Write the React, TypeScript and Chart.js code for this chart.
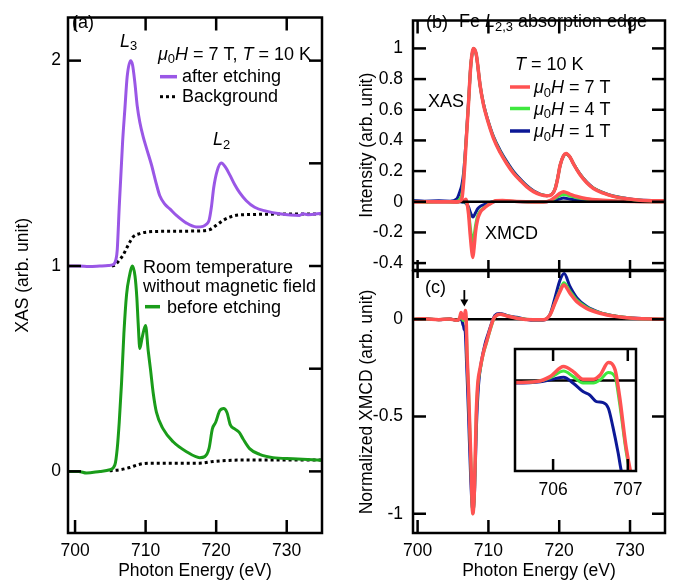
import React, { useEffect, useRef } from "react";
import { Chart, registerables } from "chart.js";
Chart.register(...registerables);

const FONT = '"Liberation Sans", Arial, Helvetica, sans-serif';
const W = 680;
const H = 585;
Chart.defaults.color = "#000";
Chart.defaults.font.family = FONT;

// ---------- Panel (a) ----------
const afterE = [699.0, 700.5, 702, 703.5, 704.7, 705.41, 705.79, 705.98, 706.26, 706.74, 707.06, 707.39, 707.87, 708.15, 708.48, 708.81, 709.18, 709.66, 710.13, 710.83, 711.54, 712.01, 712.72, 713.43, 714.37, 715.79, 717.2, 718.14, 718.61, 718.99, 719.32, 719.65, 720.12, 720.73, 721.34, 721.91, 722.62, 723.33, 724.27, 725.45, 727.1, 728.99, 731.82, 732.29, 733.0, 735.0];
const afterEtching = [1.0, 1.0, 0.998, 1.0, 1.002, 1.007, 1.031, 1.079, 1.286, 1.605, 1.764, 1.923, 2.0, 1.979, 1.892, 1.78, 1.7, 1.629, 1.573, 1.493, 1.397, 1.342, 1.301, 1.278, 1.246, 1.209, 1.19, 1.193, 1.203, 1.222, 1.286, 1.381, 1.461, 1.501, 1.48, 1.445, 1.397, 1.357, 1.318, 1.286, 1.267, 1.254, 1.246, 1.254, 1.25, 1.257];
const beforeE = [699.0, 700.5, 701.64, 703.53, 704.94, 705.65, 705.98, 706.26, 706.59, 706.92, 707.3, 707.7, 708.15, 708.5, 708.75, 708.95, 709.18, 709.5, 709.99, 710.36, 710.7, 711.07, 711.54, 712.48, 713.9, 715.79, 717.67, 718.38, 718.99, 719.46, 719.93, 720.5, 721.07, 721.53, 722.01, 722.62, 723.24, 723.8, 724.74, 726.16, 728.05, 730.87, 735.0];
const beforeEtching = [0.0, 0.0, -0.008, 0.0, 0.008, 0.032, 0.112, 0.239, 0.431, 0.67, 0.861, 0.95, 1.0, 0.95, 0.85, 0.718, 0.598, 0.65, 0.71, 0.59, 0.494, 0.383, 0.287, 0.207, 0.144, 0.096, 0.067, 0.072, 0.112, 0.207, 0.239, 0.295, 0.306, 0.287, 0.226, 0.207, 0.191, 0.159, 0.111, 0.083, 0.067, 0.061, 0.054];
const bgTopE = [705.2, 705.6, 706.12, 706.82, 707.53, 708.24, 709.18, 710.36, 712.96, 717.67, 719.08, 720.02, 720.97, 721.91, 722.86, 725.21, 735.0];
const bgTop = [1.0, 1.004, 1.022, 1.054, 1.102, 1.142, 1.158, 1.166, 1.169, 1.171, 1.177, 1.198, 1.222, 1.238, 1.247, 1.251, 1.254];
const bgBotE = [704.9, 706.36, 707.77, 709.18, 710.6, 717.67, 719.55, 721.44, 723.33, 735.0];
const bgBot = [0.003, 0.008, 0.019, 0.035, 0.04, 0.04, 0.048, 0.053, 0.055, 0.055];

// ---------- Panel (b) ----------
const xasE = [699.35, 701, 703, 704.6, 705.55, 706.0, 706.25, 706.5, 706.87, 707.2, 707.53, 707.9, 708.28, 708.84, 709.31, 709.78, 710.72, 711.66, 712.6, 713.54, 714.49, 715.43, 716.37, 717.31, 718.25, 718.95, 719.42, 719.75, 720.13, 720.6, 720.97, 721.54, 722.0, 722.95, 723.89, 724.83, 726.24, 727.65, 729.53, 731.41, 734.94];
const xas7T = [0, 0, 0, 0, 0, 0.005, 0.02, 0.13, 0.4, 0.65, 0.9, 1.0, 0.963, 0.755, 0.631, 0.548, 0.414, 0.321, 0.248, 0.186, 0.139, 0.097, 0.066, 0.047, 0.039, 0.047, 0.083, 0.145, 0.238, 0.3, 0.315, 0.29, 0.248, 0.176, 0.124, 0.087, 0.056, 0.035, 0.019, 0.01, 0.006];
const xas4T = [0.003, -0.002, 0.002, 0.0, 0.004, 0.02, 0.05, 0.15, 0.41, 0.65, 0.9, 1.0, 0.96, 0.755, 0.635, 0.55, 0.418, 0.326, 0.252, 0.19, 0.142, 0.1, 0.068, 0.048, 0.04, 0.048, 0.085, 0.147, 0.238, 0.298, 0.313, 0.29, 0.25, 0.178, 0.126, 0.089, 0.058, 0.036, 0.02, 0.01, 0.006];
const xas1T = [0.008, 0.004, 0.006, 0.004, 0.02, 0.07, 0.11, 0.19, 0.42, 0.66, 0.9, 1.0, 0.96, 0.755, 0.638, 0.555, 0.425, 0.335, 0.262, 0.198, 0.148, 0.105, 0.072, 0.05, 0.04, 0.048, 0.085, 0.147, 0.238, 0.298, 0.312, 0.29, 0.25, 0.18, 0.128, 0.09, 0.06, 0.038, 0.022, 0.012, 0.008];
const xmcdE = [699.35, 702, 704.5, 705.5, 706.0, 706.2, 706.5, 706.8, 706.95, 707.2, 707.42, 707.67, 707.8, 707.95, 708.2, 708.5, 708.84, 709.31, 710.0, 710.5, 711.0, 712.0, 714.0, 716.3, 717.7, 718.7, 719.4, 720.1, 720.6, 721.5, 722.5, 723.9, 725.7, 728.0, 730.4, 734.94];
const xmcd7T = [0, 0, 0, -0.002, 0.004, 0.012, 0.003, 0.016, 0.0, -0.08, -0.21, -0.33, -0.363, -0.31, -0.19, -0.11, -0.07, -0.045, -0.02, -0.006, 0.006, 0.008, 0.002, -0.001, -0.001, 0.008, 0.03, 0.055, 0.066, 0.05, 0.034, 0.02, 0.011, 0.005, 0.002, 0];
const xmcd4T = [0, 0, 0, -0.002, 0.003, 0.008, -0.002, 0.006, -0.01, -0.06, -0.16, -0.24, -0.265, -0.23, -0.15, -0.09, -0.06, -0.04, -0.018, -0.005, 0.005, 0.006, 0.002, -0.001, -0.001, 0.006, 0.022, 0.04, 0.048, 0.038, 0.026, 0.016, 0.009, 0.004, 0.001, 0];
const xmcd1T = [0, 0, 0, -0.001, 0.0, -0.001, -0.004, -0.008, -0.015, -0.035, -0.065, -0.092, -0.1, -0.092, -0.07, -0.045, -0.03, -0.02, -0.009, -0.002, 0.002, 0.003, 0.001, -0.001, -0.001, 0.003, 0.01, 0.019, 0.024, 0.018, 0.012, 0.007, 0.004, 0.002, 0.001, 0];

// ---------- Panel (c) + inset (normalized XMCD) ----------
const nE = [699.35, 701, 703, 704.5, 705.49, 705.78, 705.96, 706.14, 706.27, 706.4, 706.54, 706.63, 706.74, 706.83, 706.89, 706.98, 707.19, 707.52, 707.8, 708.04, 708.27, 708.5, 708.84, 709.3, 709.78, 710.25, 710.7, 711.0, 711.65, 712.59, 714.0, 716.34, 717.75, 718.69, 719.39, 720.1, 720.66, 721.51, 722.45, 723.86, 725.74, 728.08, 730.43, 734.94];
const norm7T = [0, 0.003, -0.002, 0.001, -0.005, -0.0025, 0.01, 0.035, 0.0225, 0.0035, 0.0035, 0.014, 0.045, 0.027, -0.04, -0.17, -0.36, -0.72, -1.0, -0.86, -0.5, -0.33, -0.25, -0.17, -0.11, -0.05, 0.0, 0.016, 0.026, 0.017, 0.005, -0.003, -0.003, 0.022, 0.082, 0.142, 0.176, 0.134, 0.091, 0.056, 0.031, 0.014, 0.005, 0];
const norm4T = [0, 0.002, -0.002, 0.001, -0.005, -0.0025, 0.007, 0.024, 0.01, -0.006, -0.006, 0.002, 0.02, 0.009, -0.056, -0.18, -0.37, -0.73, -1.0, -0.87, -0.52, -0.34, -0.26, -0.175, -0.115, -0.055, -0.005, 0.015, 0.026, 0.018, 0.006, -0.002, -0.002, 0.022, 0.085, 0.15, 0.187, 0.145, 0.1, 0.062, 0.034, 0.015, 0.005, 0];
const n1E = [699.35, 701, 703, 704.5, 705.49, 705.83, 706.0, 706.14, 706.27, 706.4, 706.49, 706.58, 706.67, 706.74, 706.8, 706.87, 706.91, 707.0, 707.2, 707.5, 707.8, 708.05, 708.3, 708.6, 709.0, 709.5, 710.0, 710.5, 710.9, 711.6, 712.6, 714.0, 716.3, 717.7, 718.7, 719.4, 720.1, 720.7, 721.5, 722.5, 723.9, 725.7, 728.0, 730.4, 734.94];
const norm1T = [0, 0.004, -0.003, 0.002, -0.006, -0.003, 0.004, 0.0085, -0.0065, -0.0275, -0.036, -0.0525, -0.055, -0.069, -0.115, -0.18, -0.223, -0.3, -0.5, -0.82, -0.99, -0.88, -0.56, -0.34, -0.22, -0.13, -0.07, -0.015, 0.02, 0.03, 0.02, 0.01, -0.005, -0.005, 0.025, 0.11, 0.2, 0.235, 0.17, 0.11, 0.065, 0.035, 0.016, 0.006, 0];

// tick positions / labels
const energyTicks = [700, 710, 720, 730];
const insetTicks = [706, 707];

const PURPLE = "#9a57e6";
const DGREEN = "#1a9c1a";
const RED = "#ff5252";
const LGREEN = "#3fe83f";
const BLUE = "#0c1896";

type Part = { t: string; it?: boolean; sub?: boolean };
type Label = { x: number; y: number; parts: Part[]; size?: number };
type Sample = { x1: number; x2: number; y: number; color: string; width: number; dash?: number[] };
type Overlay = {
  ticks: Record<string, number>;
  labels?: Label[];
  samples?: Sample[];
  zeroAfter?: number;
  zeroBelow?: boolean;
  white?: boolean;
  arrow?: { x: number; y1: number; y2: number };
};

function pts(xs: number[], ys: number[]) {
  return xs.map((x, i) => ({ x, y: ys[i] }));
}

function series(label: string, xs: number[], ys: number[], color: string, width: number, extra: any = {}) {
  return {
    label,
    data: pts(xs, ys),
    borderColor: color,
    backgroundColor: color,
    borderWidth: width,
    pointRadius: 0,
    fill: false,
    cubicInterpolationMode: "monotone",
    ...extra,
  };
}

function drawRich(ctx: CanvasRenderingContext2D, lab: Label) {
  const size = lab.size ?? 18;
  let cx = lab.x;
  ctx.fillStyle = "#000";
  ctx.textBaseline = "alphabetic";
  ctx.textAlign = "left";
  for (const p of lab.parts) {
    const fs = p.sub ? size * 0.72 : size;
    ctx.font = `${p.it ? "italic " : ""}${fs}px ${FONT}`;
    ctx.fillText(p.t, cx, p.sub ? lab.y + size * 0.2 : lab.y);
    cx += ctx.measureText(p.t).width;
  }
}

function drawZero(chart: any) {
  const { ctx, chartArea } = chart;
  const y = chart.scales.y.getPixelForValue(0);
  ctx.save();
  ctx.strokeStyle = "#000";
  ctx.lineWidth = 2.5;
  ctx.beginPath();
  ctx.moveTo(chartArea.left, y);
  ctx.lineTo(chartArea.right, y);
  ctx.stroke();
  ctx.restore();
}

function overlay(o: Overlay) {
  return {
    id: "overlay",
    beforeDraw(chart: any) {
      if (!o.white) return;
      const { ctx, chartArea: a } = chart;
      ctx.save();
      ctx.fillStyle = "#fff";
      ctx.fillRect(a.left, a.top, a.right - a.left, a.bottom - a.top);
      ctx.restore();
    },
    beforeDatasetsDraw(chart: any) {
      if (o.zeroBelow) drawZero(chart);
    },
    afterDatasetDraw(chart: any, args: any) {
      if (o.zeroAfter === args.index) drawZero(chart);
    },
    afterDraw(chart: any) {
      const { ctx, chartArea: a } = chart;
      ctx.save();
      ctx.strokeStyle = "#000";
      ctx.lineWidth = 2.5;
      ctx.strokeRect(a.left, a.top, a.right - a.left, a.bottom - a.top);
      for (const id of Object.keys(o.ticks)) {
        const s = chart.scales[id];
        const len = o.ticks[id];
        const pos = s.options.position;
        for (const t of s.ticks) {
          const p = s.getPixelForValue(t.value);
          ctx.beginPath();
          if (pos === "left") { ctx.moveTo(a.left, p); ctx.lineTo(a.left + len, p); }
          else if (pos === "right") { ctx.moveTo(a.right, p); ctx.lineTo(a.right - len, p); }
          else if (pos === "bottom") { ctx.moveTo(p, a.bottom); ctx.lineTo(p, a.bottom - len); }
          else { ctx.moveTo(p, a.top); ctx.lineTo(p, a.top + len); }
          ctx.stroke();
        }
      }
      for (const sm of o.samples ?? []) {
        ctx.save();
        ctx.strokeStyle = sm.color;
        ctx.lineWidth = sm.width;
        ctx.setLineDash(sm.dash ?? []);
        ctx.beginPath();
        ctx.moveTo(sm.x1, sm.y);
        ctx.lineTo(sm.x2, sm.y);
        ctx.stroke();
        ctx.restore();
      }
      if (o.arrow) {
        const xs = chart.scales.x, ys = chart.scales.y;
        const x = xs.getPixelForValue(o.arrow.x);
        const y1 = ys.getPixelForValue(o.arrow.y1);
        const y2 = ys.getPixelForValue(o.arrow.y2);
        ctx.lineWidth = 1.8;
        ctx.beginPath();
        ctx.moveTo(x, y1);
        ctx.lineTo(x, y2 - 5);
        ctx.stroke();
        ctx.fillStyle = "#000";
        ctx.beginPath();
        ctx.moveTo(x - 4, y2 - 7);
        ctx.lineTo(x + 4, y2 - 7);
        ctx.lineTo(x, y2);
        ctx.closePath();
        ctx.fill();
      }
      for (const l of o.labels ?? []) drawRich(ctx, l);
      ctx.restore();
    },
  };
}

const tickFont = { family: FONT, size: 17.5 };
const titleFont = { family: FONT, size: 17.5 };
const noGrid = { display: false, drawTicks: false };
const noBorder = { display: false };

function axis(position: string, min: number, max: number, step: number, opts: any = {}) {
  const { labels = false, pad = 8, title, titlePad, size, fmt } = opts;
  const horizontal = position === "top" || position === "bottom";
  return {
    type: "linear",
    position,
    min,
    max,
    grid: noGrid,
    border: noBorder,
    ticks: {
      display: labels,
      stepSize: step,
      includeBounds: false,
      font: tickFont,
      color: "#000",
      padding: pad,
      maxRotation: 0,
      minRotation: 0,
      autoSkip: false,
      callback: (v: number) => (fmt ? fmt(v) : String(v)),
    },
    title: title
      ? { display: true, text: title, font: titleFont, color: "#000", padding: titlePad }
      : { display: false },
    afterFit: (s: any) => {
      if (horizontal) s.height = size; else s.width = size;
    },
  };
}

const oneDec = (v: number) => String(Math.round(v * 10) / 10);

function baseOptions(padding: any, scales: any) {
  return {
    animation: false,
    responsive: false,
    maintainAspectRatio: false,
    events: [],
    layout: { padding, autoPadding: false },
    plugins: { legend: { display: false }, tooltip: { enabled: false } },
    scales,
  };
}

const muH = (v: string): Part[] => [{ t: "μ", it: true }, { t: "0", sub: true }, { t: "H", it: true }, { t: ` = ${v} T` }];

function cfgA(): any {
  return {
    type: "line",
    data: {
      datasets: [
        series("after etching", afterE, afterEtching, PURPLE, 3),
        series("before etching", beforeE, beforeEtching, DGREEN, 3),
        series("Background", bgTopE, bgTop, "#000", 3, { borderDash: [3, 3] }),
        series("Background (RT)", bgBotE, bgBot, "#000", 3, { borderDash: [3, 3] }),
      ],
    },
    options: baseOptions({ left: 0, top: 8, right: W - 322, bottom: 0 }, {
      x: axis("bottom", 699, 735, 10, { labels: true, pad: 8, size: 52, title: "Photon Energy (eV)", titlePad: { top: 0, bottom: 3 } }),
      x2: axis("top", 699, 735, 10, { size: 0 }),
      y: axis("left", -0.3, 2.21, 1, { labels: true, pad: 7, size: 68, title: "XAS (arb. unit)", titlePad: { top: 13, bottom: 0 } }),
      y2: axis("right", -0.3, 2.21, 0.5, { size: 0 }),
    }),
    plugins: [
      overlay({
        ticks: { x: 13, x2: 13, y: 13, y2: 13 },
        samples: [
          { x1: 160, x2: 177, y: 76.7, color: PURPLE, width: 3.5 },
          { x1: 160, x2: 178, y: 96.7, color: "#000", width: 3, dash: [3, 3] },
          { x1: 145, x2: 160, y: 306.7, color: DGREEN, width: 3.5 },
        ],
        labels: [
          { x: 72, y: 28, parts: [{ t: "(a)" }] },
          { x: 120, y: 46.5, parts: [{ t: "L", it: true }, { t: "3", sub: true }] },
          { x: 158, y: 59.5, parts: [{ t: "μ", it: true }, { t: "0", sub: true }, { t: "H", it: true }, { t: " = 7 T, " }, { t: "T", it: true }, { t: " = 10 K" }] },
          { x: 182, y: 82, parts: [{ t: "after etching" }] },
          { x: 182, y: 101.5, parts: [{ t: "Background" }] },
          { x: 213, y: 145, parts: [{ t: "L", it: true }, { t: "2", sub: true }] },
          { x: 143, y: 273, parts: [{ t: "Room temperature" }] },
          { x: 143, y: 291.5, parts: [{ t: "without magnetic field" }] },
          { x: 167, y: 313, parts: [{ t: "before etching" }] },
        ],
      }),
    ],
  };
}

function cfgB(): any {
  return {
    type: "line",
    data: {
      datasets: [
        series("XAS 7 T", xasE, xas7T, RED, 3.5),
        series("XAS 4 T", xasE, xas4T, LGREEN, 3),
        series("XAS 1 T", xasE, xas1T, BLUE, 3),
        series("XMCD 7 T", xmcdE, xmcd7T, RED, 3.5),
        series("XMCD 4 T", xmcdE, xmcd4T, LGREEN, 3),
        series("XMCD 1 T", xmcdE, xmcd1T, BLUE, 3),
      ],
    },
    options: baseOptions({ left: 340, top: 8, right: 15, bottom: W === 680 ? 315 : 315 }, {
      x: axis("bottom", 699.35, 734.94, 10, { size: 0 }),
      x2: axis("top", 699.35, 734.94, 10, { size: 0 }),
      y: axis("left", -0.445, 1.182, 0.2, { labels: true, pad: 10, size: 73, fmt: oneDec, title: "Intensity (arb. unit)", titlePad: { top: 17, bottom: 0 } }),
      y2: axis("right", -0.445, 1.182, 0.2, { size: 0 }),
    }),
    plugins: [
      overlay({
        ticks: { x: 10, x2: 13, y: 13, y2: 13 },
        zeroAfter: 3,
        samples: [
          { x1: 510, x2: 530, y: 87, color: RED, width: 3.5 },
          { x1: 510, x2: 530, y: 108.5, color: LGREEN, width: 3.5 },
          { x1: 510, x2: 530, y: 131, color: BLUE, width: 3.5 },
        ],
        labels: [
          { x: 426, y: 27.5, parts: [{ t: "(b)" }] },
          { x: 459, y: 27, parts: [{ t: "Fe " }, { t: "L", it: true }, { t: "2,3", sub: true }, { t: " absorption edge" }] },
          { x: 515, y: 69.5, parts: [{ t: "T", it: true }, { t: " = 10 K" }] },
          { x: 534, y: 93, parts: muH("7") },
          { x: 534, y: 114.5, parts: muH("4") },
          { x: 534, y: 137, parts: muH("1") },
          { x: 428, y: 106.5, parts: [{ t: "XAS" }] },
          { x: 485, y: 238.5, parts: [{ t: "XMCD" }] },
        ],
      }),
    ],
  };
}

function cfgC(): any {
  return {
    type: "line",
    data: {
      datasets: [
        series("7 T", nE, norm7T, RED, 3.5),
        series("4 T", nE, norm4T, LGREEN, 3),
        series("1 T", n1E, norm1T, BLUE, 3),
      ],
    },
    options: baseOptions({ left: 340, top: 271, right: 15, bottom: 0 }, {
      x: axis("bottom", 699.35, 734.94, 10, { labels: true, pad: 8, size: 52, title: "Photon Energy (eV)", titlePad: { top: 0, bottom: 3 } }),
      x2: axis("top", 699.35, 734.94, 10, { size: 0 }),
      y: axis("left", -1.099, 0.248, 0.5, { labels: true, pad: 10, size: 73, fmt: oneDec, title: "Normalized XMCD (arb. unit)", titlePad: { top: 17, bottom: 0 } }),
      y2: axis("right", -1.099, 0.248, 0.5, { size: 0 }),
    }),
    plugins: [
      overlay({
        ticks: { x: 13, x2: 7, y: 13, y2: 13 },
        zeroBelow: true,
        arrow: { x: 706.6, y1: 0.15, y2: 0.065 },
        labels: [{ x: 425, y: 293, parts: [{ t: "(c)" }] }],
      }),
    ],
  };
}

function cfgInset(): any {
  return {
    type: "line",
    data: {
      datasets: [
        series("7 T", nE, norm7T, RED, 3.5, { clip: 0 }),
        series("4 T", nE, norm4T, LGREEN, 3, { clip: 0 }),
        series("1 T", n1E, norm1T, BLUE, 3, { clip: 0 }),
      ],
    },
    options: baseOptions({ left: 515, top: 349, right: W - 636, bottom: 84 }, {
      x: axis("bottom", 705.49, 707.11, 1, { labels: true, pad: 8.5, size: 30 }),
      x2: axis("top", 705.49, 707.11, 1, { size: 0 }),
      y: axis("left", -0.226, 0.079, 0.1, { size: 0 }),
    }),
    plugins: [overlay({ ticks: { x: 12, x2: 12 }, zeroBelow: true, white: true })],
  };
}

export default function App() {
  const a = useRef<HTMLCanvasElement>(null);
  const b = useRef<HTMLCanvasElement>(null);
  const c = useRef<HTMLCanvasElement>(null);
  const d = useRef<HTMLCanvasElement>(null);
  useEffect(() => {
    const charts = [
      new Chart(a.current!, cfgA()),
      new Chart(b.current!, cfgB()),
      new Chart(c.current!, cfgC()),
      new Chart(d.current!, cfgInset()),
    ];
    return () => charts.forEach((ch) => ch.destroy());
  }, []);
  const st: React.CSSProperties = { position: "absolute", left: 0, top: 0, width: W, height: H };
  return (
    <div style={{ position: "absolute", left: 0, top: 0, width: W, height: H, background: "#fff" }}>
      <canvas ref={a} width={W} height={H} style={st} />
      <canvas ref={b} width={W} height={H} style={st} />
      <canvas ref={c} width={W} height={H} style={st} />
      <canvas ref={d} width={W} height={H} style={st} />
    </div>
  );
}
